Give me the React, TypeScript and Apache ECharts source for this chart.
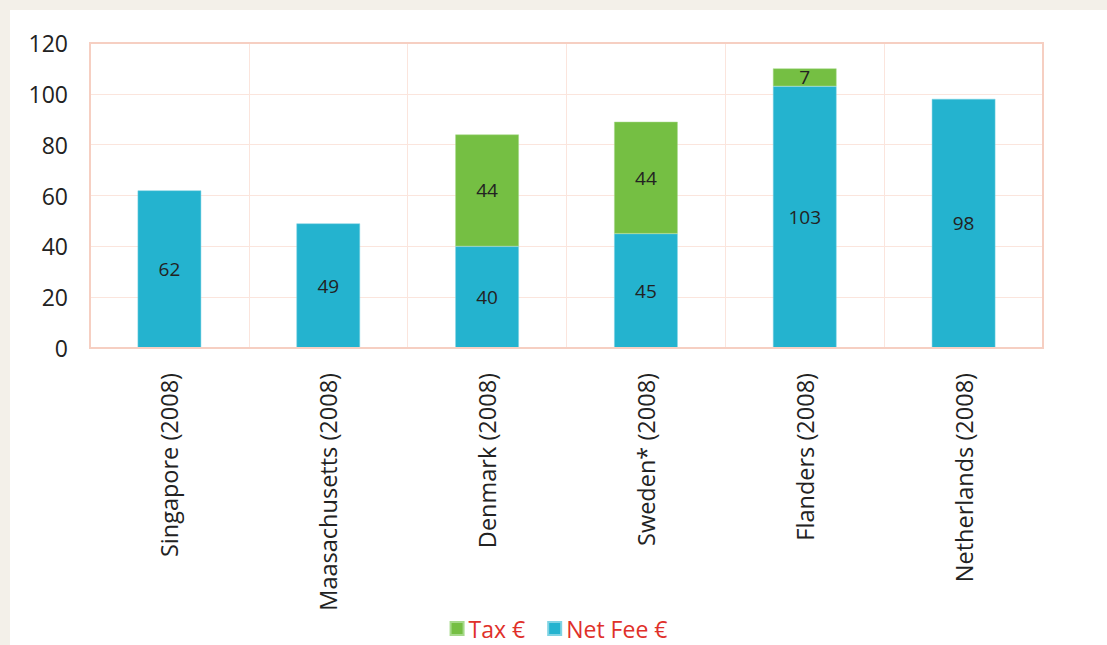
import React, { useEffect, useRef } from "react";
import * as echarts from "echarts";

const categories = [
  "Singapore (2008)",
  "Maasachusetts (2008)",
  "Denmark (2008)",
  "Sweden* (2008)",
  "Flanders (2008)",
  "Netherlands (2008)",
];
const netFee = [62, 49, 40, 45, 103, 98];
const tax: (number | null)[] = [null, null, 44, 44, 7, null];
const yTicks = [0, 20, 40, 60, 80, 100, 120];

const FONT = "'Open Sans', sans-serif";
const GL = 80, GR = 64, GT = 33, GB = 297, W = 1097, H = 635;

export default function App() {
  const ref = useRef<HTMLDivElement>(null);
  useEffect(() => {
    document.body.style.margin = "0";
    const chart = echarts.init(ref.current!, undefined, { renderer: "svg" });
    chart.setOption({
      animation: false,
      backgroundColor: "#ffffff",
      textStyle: { fontFamily: FONT },
      grid: { left: GL, right: GR, top: GT, bottom: GB, containLabel: false },
      legend: {
        bottom: 0,
        left: "center",
        itemWidth: 13,
        itemHeight: 13,
        itemGap: 22,
        icon: "rect",
        data: ["Tax €", "Net Fee €"],
        textStyle: { color: "#e0302a", fontSize: 23, fontFamily: FONT },
      },
      xAxis: {
        type: "category",
        data: categories,
        axisLine: { show: true, lineStyle: { color: "#f6cfc2", width: 2 } },
        axisTick: { show: false },
        splitLine: { show: true, lineStyle: { color: "#fbe5dd", width: 1 } },
        axisLabel: {
          rotate: 90,
          interval: 0,
          margin: 25,
          fontSize: 23.5,
          color: "#222222",
          fontFamily: FONT,
        },
      },
      yAxis: {
        type: "value",
        min: 0,
        max: yTicks[yTicks.length - 1],
        interval: 20,
        axisLine: { show: true, lineStyle: { color: "#f6cfc2", width: 2 } },
        axisTick: { show: false },
        splitLine: { show: true, lineStyle: { color: "#fbe5dd", width: 1 } },
        axisLabel: { fontSize: 23, color: "#222222", margin: 22, fontFamily: FONT },
      },
      graphic: [
        {
          type: "rect",
          shape: { x: GL, y: GT, width: W - GL - GR, height: H - GT - GB },
          style: { fill: "none", stroke: "#f6cfc2", lineWidth: 2 },
          silent: true,
          z: 10,
        },
      ],
      series: [
        {
          name: "Net Fee €",
          type: "bar",
          stack: "total",
          data: netFee,
          barWidth: "40%",
          itemStyle: { color: "#24b3cf", borderColor: "#7fd3e3", borderWidth: 0.5 },
          label: {
            show: true,
            position: "inside",
            fontSize: 19,
            color: "#222222",
            fontFamily: FONT,
          },
        },
        {
          name: "Tax €",
          type: "bar",
          stack: "total",
          data: tax,
          barWidth: "40%",
          itemStyle: { color: "#75bf43", borderColor: "#a6d98a", borderWidth: 0.5 },
          label: {
            show: true,
            position: "inside",
            fontSize: 19,
            color: "#222222",
            fontFamily: FONT,
          },
        },
      ],
    });
    return () => chart.dispose();
  }, []);
  return (
    <div
      style={{
        position: "fixed",
        left: 0,
        top: 0,
        width: 1107,
        height: 645,
        background: "#f3f0e9",
      }}
    >
      <div
        ref={ref}
        style={{ position: "absolute", left: 10, top: 10, width: W, height: H }}
      />
    </div>
  );
}
